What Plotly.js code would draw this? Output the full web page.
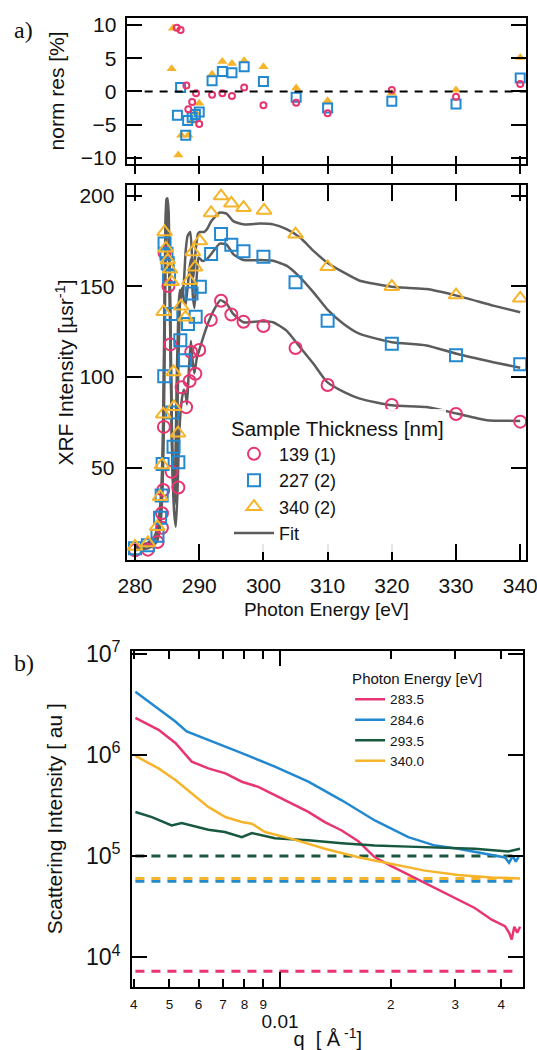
<!DOCTYPE html>
<html><head><meta charset="utf-8">
<script src="https://cdn.plot.ly/plotly-3.0.1.min.js"></script>
<style>html,body{margin:0;padding:0;background:#fff}</style>
</head><body><div id="chart" style="width:537px;height:1050px"></div>
<script>
// ---------- panel a (top): normalised residuals [%] ----------
const resE139 = [286.5, 287.1, 288.0, 288.3, 288.9, 289.5, 290.0, 292.0, 293.6, 295.1, 297.0, 300.0, 305.1, 310.0, 320.0, 330.0, 340.0];
const res139  = [9.6, 9.25, 0.9, -2.7, -1.6, -0.3, -4.9, -0.5, -0.3, -0.7, 0.6, -2.1, -1.7, -3.3, 0.2, -0.8, 1.1];
const resE227 = [286.6, 287.1, 287.9, 288.2, 288.9, 289.4, 290.0, 292.0, 293.6, 295.1, 297.0, 300.0, 305.1, 310.0, 320.0, 330.0, 340.0];
const res227  = [-3.6, 0.6, -6.6, -4.4, -3.9, -3.5, -3.1, 1.6, 3.0, 2.8, 3.7, 1.5, -0.9, -2.5, -1.5, -1.9, 2.0];
const resE340 = [285.7, 285.9, 286.75, 287.2, 288.3, 288.8, 289.4, 290.0, 292.0, 293.6, 295.1, 297.0, 300.0, 305.1, 310.0, 320.0, 330.0, 340.0];
const res340  = [3.4, 9.5, -9.6, -6.6, -6.6, -4.5, -3.2, -1.8, 2.6, 4.5, 4.2, 4.6, 3.7, 0.5, -1.4, -0.3, 0.2, 5.1];
const zeroLineE = [281.5, 341];
const zeroLineV = [0, 0];

// ---------- panel a (middle): XRF intensity [usr^-1] ----------
const E139 = [280, 282, 283.5, 284.2, 284.2, 284.4, 284.5, 284.6, 285.2, 285.5, 285.7, 286.75, 287.25, 287.95, 288.5, 288.75, 289.4, 290.0, 291.8, 293.4, 295.0, 296.9, 300.0, 305.0, 310.0, 320.0, 330.0, 340.0];
const I139 = [4.5, 4.8, 9.0, 16.9, 24.9, 37.7, 72.5, 168.5, 150.2, 118.0, 47.7, 39.1, 94.3, 83.4, 97.8, 113.8, 101.8, 114.9, 131.5, 142.1, 134.5, 130.5, 128.1, 116.0, 95.6, 84.6, 79.6, 75.4];
const E227 = [280, 282, 283.5, 283.9, 284.15, 284.3, 284.55, 284.6, 284.9, 285.1, 285.3, 285.65, 285.8, 286.0, 286.75, 287.05, 287.8, 288.25, 288.8, 289.45, 290.1, 291.85, 293.4, 295.0, 296.9, 300.0, 305.0, 310.0, 320.0, 330.0, 340.0];
const I227 = [5.6, 7.3, 12.5, 22.4, 34.6, 52.0, 100.5, 173.7, 168.0, 162.7, 155.5, 134.8, 80.5, 61.6, 53.0, 120.3, 109.3, 129.2, 146.0, 133.2, 149.8, 167.8, 178.9, 173.0, 169.4, 166.4, 152.3, 131.1, 118.4, 112.0, 107.0];
const E340 = [280, 282, 283.45, 283.9, 284.2, 284.4, 284.45, 284.6, 284.8, 285.1, 285.45, 285.7, 286.0, 286.05, 286.7, 287.15, 287.85, 288.45, 289.0, 289.35, 290.1, 291.85, 293.4, 295.0, 296.9, 300.1, 305.0, 310.0, 320.0, 330.0, 340.0];
const I340 = [6.6, 8.5, 17.5, 34.0, 51.5, 79.5, 136.0, 180.0, 171.0, 164.5, 159.4, 152.5, 102.8, 83.6, 69.0, 139.1, 132.9, 153.1, 169.0, 160.5, 175.0, 190.5, 199.8, 195.8, 193.4, 191.9, 178.8, 160.8, 149.8, 145.2, 143.4];

// fits
const fitE139 = [280, 282, 283, 283.5, 284, 284.3, 284.5, 284.7, 284.9, 285.05, 285.2, 285.5, 285.8, 286.1, 286.35, 286.6, 286.9, 287.3, 287.6, 287.9, 288.1, 288.4, 288.7, 289.0, 289.25, 289.6, 290.1, 291.2, 292.3, 293.3, 294.3, 295.3, 296.9, 299.5, 301.5, 303.6, 305.7, 307.8, 309.9, 312.5, 315, 320, 325.4, 330.1, 334.8, 340];
const fit139  = [4.5, 5.5, 7.5, 10, 20, 40, 75, 150, 192, 197, 185, 120, 55, 25, 17.5, 35, 70, 88, 93, 90, 85, 105, 120, 108, 102, 110, 116, 128, 137, 142.4, 140.3, 134.8, 130.2, 130.8, 130.2, 125.6, 116.5, 107.3, 97.3, 91.8, 88.1, 84.4, 83.5, 79.9, 76.2, 75.8];
const fitE227 = [280, 282, 283, 283.5, 284, 284.3, 284.5, 284.7, 284.9, 285.05, 285.25, 285.5, 285.8, 286.1, 286.3, 286.6, 287.0, 287.3, 287.6, 287.9, 288.2, 288.5, 288.7, 289.0, 289.25, 289.6, 289.9, 290.5, 291.2, 291.9, 293.2, 294.3, 295.3, 296.9, 299.5, 301.5, 303.6, 305.7, 307.8, 309.9, 312.5, 315, 320, 325.4, 330.1, 335.8, 340];
const fit227  = [5.5, 7, 10, 13, 25, 50, 95, 165, 195, 197, 180, 125, 55, 29, 35, 80, 140, 149, 143, 140, 150, 160, 165, 145, 138, 155, 166, 164, 165, 168, 173.6, 172.9, 167.8, 164.5, 164.5, 164.1, 161.4, 155, 146.7, 137.5, 129.3, 123.8, 119.2, 117.4, 112.8, 108.2, 105.1];
const fitE340 = [280, 282, 283, 283.5, 284, 284.3, 284.5, 284.7, 284.9, 285.05, 285.25, 285.5, 285.75, 285.95, 286.2, 286.5, 286.8, 287.0, 287.3, 287.6, 287.9, 288.2, 288.6, 288.9, 289.1, 289.4, 289.8, 290.1, 290.8, 291.2, 291.9, 293.2, 294.3, 295.3, 296.9, 299.5, 301.5, 303.6, 305.7, 307.8, 309.9, 312.5, 315, 320, 322.8, 325.4, 330.1, 335.8, 340];
const fit340  = [6.5, 8.5, 12, 17, 33, 60, 110, 175, 198, 198.5, 190, 140, 70, 40, 45, 100, 140, 148, 144, 152, 170, 178, 180, 165, 155, 168, 179, 180, 180, 181.5, 186, 190.7, 190, 186, 184.2, 184.6, 184.2, 181.5, 176.9, 169.6, 163.2, 157.7, 153.1, 149.8, 149.1, 148.5, 144.9, 139.4, 135.7];

const energyTicks = [280, 290, 300, 310, 320, 330, 340];
const xrfTicks = [50, 100, 150, 200];
const resTicks = [-10, -5, 0, 5, 10];

// ---------- panel b: scattering intensity ----------
const q2835 = [0.00404, 0.00467, 0.00519, 0.00575, 0.00638, 0.00710, 0.00787, 0.00873, 0.00968, 0.01077, 0.01194, 0.01324, 0.01472, 0.01633, 0.01811, 0.02009, 0.02328, 0.02748, 0.03055, 0.03388, 0.03767, 0.04093, 0.0420, 0.0427, 0.0434, 0.0442, 0.0450];
const I2835 = [2.32e6, 1.77e6, 1.31e6, 8.59e5, 7.36e5, 6.58e5, 5.43e5, 4.84e5, 4.0e5, 3.30e5, 2.73e5, 2.17e5, 1.79e5, 1.40e5, 9.73e4, 7.94e4, 6.08e4, 4.49e4, 3.72e4, 3.07e4, 2.35e4, 2.03e4, 1.75e4, 1.5e4, 2.0e4, 1.75e4, 2.0e4];
const q2846 = [0.00404, 0.00519, 0.00557, 0.00638, 0.00787, 0.00968, 0.01194, 0.01472, 0.01811, 0.02234, 0.02642, 0.03055, 0.03606, 0.04093, 0.0420, 0.0430, 0.0438, 0.0446];
const I2846 = [4.2e6, 2.14e6, 1.71e6, 1.41e6, 1.04e6, 7.66e5, 5.43e5, 3.56e5, 2.25e5, 1.54e5, 1.27e5, 1.18e5, 1.05e5, 9.7e4, 8.6e4, 1.0e5, 8.8e4, 9.8e4];
const q2935 = [0.00404, 0.00448, 0.00507, 0.00540, 0.00638, 0.00708, 0.00787, 0.00838, 0.00968, 0.01194, 0.01472, 0.01811, 0.02234, 0.02748, 0.03388, 0.04178, 0.04498];
const I2935 = [2.73e5, 2.43e5, 2.01e5, 2.12e5, 1.82e5, 1.73e5, 1.54e5, 1.69e5, 1.50e5, 1.43e5, 1.34e5, 1.27e5, 1.24e5, 1.22e5, 1.18e5, 1.11e5, 1.18e5];
const q3400 = [0.00404, 0.00467, 0.00519, 0.00575, 0.00638, 0.00710, 0.00787, 0.00838, 0.00910, 0.01077, 0.01324, 0.01633, 0.02009, 0.02477, 0.03055, 0.03767, 0.04498];
const I3400 = [9.77e5, 7.36e5, 5.64e5, 4.16e5, 3.06e5, 2.43e5, 2.17e5, 2.09e5, 1.73e5, 1.48e5, 1.18e5, 9.73e4, 8.36e4, 7.18e4, 6.50e4, 6.15e4, 6.01e4];
const bgQ = [0.00404, 0.0431];
const energyNames = ['283.5', '284.6', '293.5', '340.0'];
const bgLevel = [7.26e3, 5.65e4, 1.0e5, 6.0e4];
const qDigitTicks = [0.004, 0.005, 0.006, 0.007, 0.008, 0.009, 0.02, 0.03, 0.04];
const qDigitText = ['4', '5', '6', '7', '8', '9', '2', '3', '4'];
const qMajorTicks = [0.01];
const qMajorText = ['0.01'];

// ---------- styling ----------
const cMag = '#e8356f', cBlue = '#2288d0', cGreen = '#17583f', cOrange = '#f6b42a', cFit = '#5c5c5c';
const lineColors = [cMag, cBlue, cGreen, cOrange];

const traces = [];
// residuals (zero line lives on the overlaid tick axis x4 so that axis is drawn)
traces.push({x: zeroLineE, y: zeroLineV, xaxis: 'x4', yaxis: 'y', mode: 'lines', showlegend: false,
  line: {color: '#000', width: 2, dash: '8px,7px'}, hoverinfo: 'skip'});
traces.push({x: resE340, y: res340, xaxis: 'x', yaxis: 'y', mode: 'markers', showlegend: false,
  marker: {symbol: 'triangle-up', size: 9, color: cOrange}});
traces.push({x: resE227, y: res227, xaxis: 'x', yaxis: 'y', mode: 'markers', showlegend: false,
  marker: {symbol: 'square-open', size: 9, color: cBlue, line: {width: 2, color: cBlue}}});
traces.push({x: resE139, y: res139, xaxis: 'x', yaxis: 'y', mode: 'markers', showlegend: false,
  marker: {symbol: 'circle-open', size: 6, color: cMag, line: {width: 2, color: cMag}}});

// fits
[[fitE139, fit139], [fitE227, fit227], [fitE340, fit340]].forEach((f, i) => {
  traces.push({x: f[0], y: f[1], xaxis: 'x2', yaxis: 'y2', mode: 'lines', name: 'Fit',
    legend: 'legend', legendrank: 4, showlegend: i === 0,
    line: {color: cFit, width: 2.5, shape: 'spline', smoothing: 0.5}});
});
// XRF markers
traces.push({x: E139, y: I139, xaxis: 'x2', yaxis: 'y2', mode: 'markers', name: '139 (1)', legend: 'legend', legendrank: 1,
  marker: {symbol: 'circle-open', size: 12, color: cMag, line: {width: 2, color: cMag}}});
traces.push({x: E227, y: I227, xaxis: 'x2', yaxis: 'y2', mode: 'markers', name: '227 (2)', legend: 'legend', legendrank: 2,
  marker: {symbol: 'square-open', size: 12, color: cBlue, line: {width: 2, color: cBlue}}});
traces.push({x: E340, y: I340, xaxis: 'x2', yaxis: 'y2', mode: 'markers', name: '340 (2)', legend: 'legend', legendrank: 3,
  marker: {symbol: 'triangle-up-open', size: 13, color: cOrange, line: {width: 2, color: cOrange}}});

// scattering: background dashed levels (order: magenta, blue, green, orange)
[0, 1, 3, 2].forEach((i, k) => {
  traces.push({x: bgQ, y: [bgLevel[i], bgLevel[i]], xaxis: k === 0 ? 'x5' : 'x3', yaxis: 'y3', mode: 'lines', showlegend: false,
    line: {color: lineColors[i], width: 3, dash: '9px,7px'}, hoverinfo: 'skip'});
});
[[q2835, I2835], [q2846, I2846], [q2935, I2935], [q3400, I3400]].forEach((s, i) => {
  traces.push({x: s[0], y: s[1], xaxis: 'x3', yaxis: 'y3', mode: 'lines', name: energyNames[i], legend: 'legend2', legendrank: i + 1,
    line: {color: lineColors[i], width: 2.5}});
});

const base = {showline: true, linecolor: '#000', linewidth: 2, zeroline: false, showgrid: false,
  ticks: 'inside', tickcolor: '#000', tickwidth: 2, fixedrange: true, automargin: false, ticklabeloverflow: 'allow'};
const fontMain = 'Liberation Sans, Arial, sans-serif';
const eRange = [278.7, 340.9];
const qRange = [-2.402, -1.338];

const layout = {
  width: 537, height: 1050, margin: {l: 0, r: 0, t: 0, b: 0},
  paper_bgcolor: '#fff', plot_bgcolor: 'rgba(0,0,0,0)',
  font: {family: fontMain, size: 21, color: '#111'},
  // top panel
  xaxis: Object.assign({}, base, {domain: [0.2359, 0.9795], range: eRange, anchor: 'y',
    tickmode: 'array', tickvals: energyTicks, ticks: 'outside', ticklen: 8, mirror: true, showticklabels: false}),
  xaxis4: Object.assign({}, base, {overlaying: 'x', anchor: 'y', range: eRange, showline: false,
    tickmode: 'array', tickvals: energyTicks, ticks: 'inside', ticklen: 8, showticklabels: false}),
  yaxis: Object.assign({}, base, {domain: [0.8438, 0.9831], range: [-10.95, 11.1], anchor: 'x',
    tickmode: 'array', tickvals: resTicks, ticklen: 15, mirror: 'ticks', tickfont: {size: 21},
    ticklabelstandoff: 4, title: {text: 'norm res [%]', font: {size: 21}, standoff: 11}}),
  // middle panel
  xaxis2: Object.assign({}, base, {domain: [0.2359, 0.9795], range: eRange, anchor: 'y2',
    tickmode: 'array', tickvals: energyTicks, ticklen: 16, mirror: 'ticks', tickfont: {size: 21},
    ticklabelstandoff: 6, title: {text: 'Photon Energy [eV]', font: {size: 19}, standoff: 7}}),
  yaxis2: Object.assign({}, base, {domain: [0.46667, 0.82381], range: [-0.9, 205.9], anchor: 'x2',
    tickmode: 'array', tickvals: xrfTicks, ticklen: 15, mirror: 'ticks', tickfont: {size: 21},
    ticklabelstandoff: 6, title: {text: 'XRF Intensity [µsr<sup>-1</sup>]', font: {size: 21}}}),
  // bottom panel
  xaxis3: Object.assign({}, base, {domain: [0.2464, 0.9745], type: 'log', range: qRange, anchor: 'y3',
    tickmode: 'array', tickvals: qDigitTicks, ticktext: qDigitText, ticklen: 8, mirror: 'ticks',
    tickfont: {size: 13.5}, ticklabelstandoff: 4,
    title: {text: 'q  [ Å<sup> -1</sup>]', font: {size: 20}}}),
  xaxis5: Object.assign({}, base, {overlaying: 'x3', anchor: 'y3', type: 'log', range: qRange, showline: false,
    tickmode: 'array', tickvals: qMajorTicks, ticktext: qMajorText, ticklen: 15, mirror: 'ticks',
    tickfont: {size: 19}, ticklabelstandoff: 21}),
  yaxis3: Object.assign({}, base, {domain: [0.06029, 0.38029], type: 'log', range: [3.709, 7.03], anchor: 'x3',
    dtick: 1, exponentformat: 'power', ticklen: 15, mirror: 'ticks', tickfont: {size: 18.5},
    ticklabelstandoff: 6, title: {text: 'Scattering Intensity [ au ]', font: {size: 21}, standoff: 18}}),
  legend: {x: 0.4264, y: 0.6105, xanchor: 'left', yanchor: 'top', bgcolor: 'rgba(255,255,255,0.9)',
    font: {size: 18}, title: {text: 'Sample Thickness [nm]', font: {size: 20.5}}, traceorder: 'normal', itemwidth: 40},
  legend2: {x: 0.652, y: 0.3672, xanchor: 'left', yanchor: 'top', bgcolor: 'rgba(0,0,0,0)',
    font: {size: 13.5}, title: {text: 'Photon Energy [eV]', font: {size: 15}}, traceorder: 'normal'},
  annotations: [
    {text: 'a)', xref: 'paper', yref: 'paper', x: 23 / 537, y: 1 - 30 / 1050, xanchor: 'center', yanchor: 'middle', showarrow: false,
      font: {family: 'Liberation Serif, Times New Roman, serif', size: 24, color: '#111'}},
    {text: 'b)', xref: 'paper', yref: 'paper', x: 24 / 537, y: 1 - 663 / 1050, xanchor: 'center', yanchor: 'middle', showarrow: false,
      font: {family: 'Liberation Serif, Times New Roman, serif', size: 24, color: '#111'}}
  ]
};

Plotly.newPlot('chart', traces, layout, {staticPlot: true, displayModeBar: false});
</script></body></html>
